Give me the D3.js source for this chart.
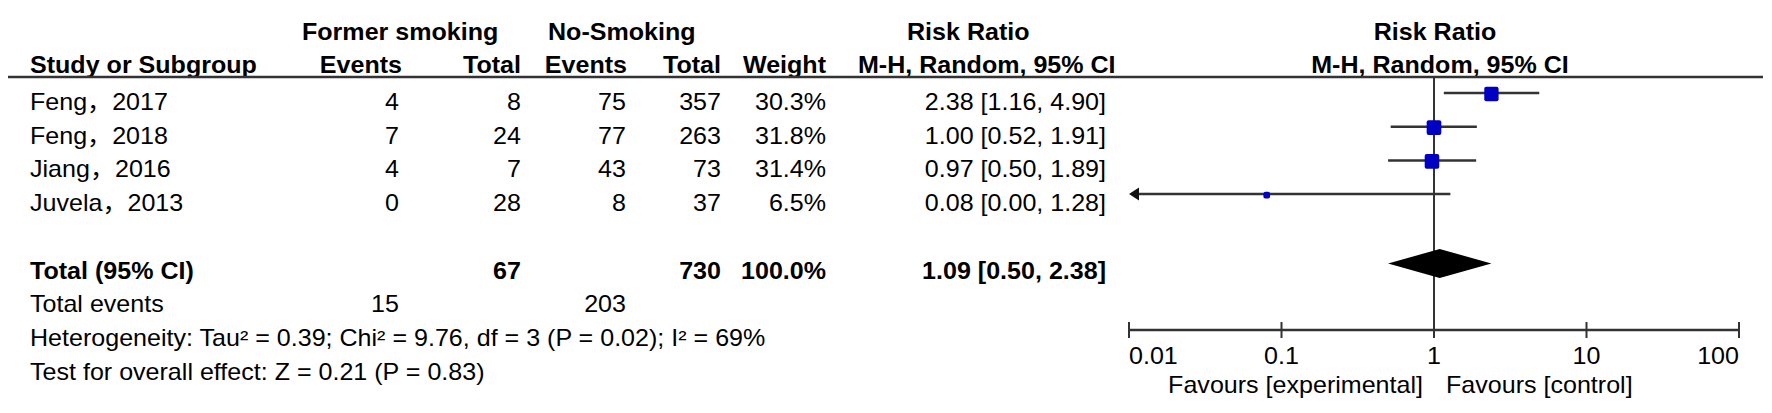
<!DOCTYPE html>
<html>
<head>
<meta charset="utf-8">
<script src="https://cdn.jsdelivr.net/npm/d3@7"></script>
<style>
  html, body { margin: 0; padding: 0; background: #fff; }
  svg text { font-family: "Liberation Sans", Arial, "Noto Sans CJK SC", sans-serif; fill: #000; }
</style>
</head>
<body>
<svg id="chart" width="1772" height="413"></svg>
<script>
// ---- data ----
const studies      = ["Feng，2017", "Feng，2018", "Jiang，2016", "Juvela，2013"];
const expEvents    = [4, 7, 4, 0];
const expTotal     = [8, 24, 7, 28];
const ctrlEvents   = [75, 77, 43, 8];
const ctrlTotal    = [357, 263, 73, 37];
const weights      = [30.3, 31.8, 31.4, 6.5];
const riskRatio    = [2.38, 1.00, 0.97, 0.08];
const ciLower      = [1.16, 0.52, 0.50, 0.00];
const ciUpper      = [4.90, 1.91, 1.89, 1.28];
const totalLabel   = "Total (95% CI)";
const totalExp     = 67;
const totalCtrl    = 730;
const totalWeight  = 100.0;
const pooledRR     = 1.09;
const pooledLower  = 0.50;
const pooledUpper  = 2.38;
const eventsExp    = 15;
const eventsCtrl   = 203;
const heterogeneityText = "Heterogeneity: Tau² = 0.39; Chi² = 9.76, df = 3 (P = 0.02); I² = 69%";
const overallText  = "Test for overall effect: Z = 0.21 (P = 0.83)";
const axisTicks    = [0.01, 0.1, 1, 10, 100];
const tickLabels   = ["0.01", "0.1", "1", "10", "100"];
const favourLeft   = "Favours [experimental]";
const favourRight  = "Favours [control]";
const groupHeaders = ["Former smoking", "No-Smoking"];

// ---- layout ----
const FS = 23, SX = 1.09;
const svg = d3.select("#chart");
const x = d3.scaleLog().domain([0.01, 100]).range([1129, 1739]);
const rowY = i => 110 + i * 33.7;
const lineCol = "#333";

function txt(xp, yp, s, anchor = "start", bold = false) {
  return svg.append("text")
    .attr("transform", `translate(${xp},${yp}) scale(${SX},1)`)
    .attr("text-anchor", anchor)
    .attr("font-size", FS)
    .attr("font-weight", bold ? "bold" : "normal")
    .text(s);
}
const f2 = d3.format(".2f");
const ciStr = (r, l, u) => `${f2(r)} [${f2(l)}, ${f2(u)}]`;

// headers
txt(302, 40, groupHeaders[0], "start", true);
txt(548, 40, groupHeaders[1], "start", true);
txt(907, 40, "Risk Ratio", "start", true);
txt(1435, 40, "Risk Ratio", "middle", true);

txt(30, 73, "Study or Subgroup", "start", true);
txt(402, 73, "Events", "end", true);
txt(521, 73, "Total", "end", true);
txt(627, 73, "Events", "end", true);
txt(721, 73, "Total", "end", true);
txt(826, 73, "Weight", "end", true);
txt(858, 73, "M-H, Random, 95% CI", "start", true);
txt(1440, 73, "M-H, Random, 95% CI", "middle", true);

svg.append("line").attr("x1", 8).attr("x2", 1763).attr("y1", 77).attr("y2", 77)
  .attr("stroke", lineCol).attr("stroke-width", 2.5);

// vertical line at RR = 1
const axisY = 330;
svg.append("line").attr("x1", x(1)).attr("x2", x(1)).attr("y1", 77).attr("y2", axisY)
  .attr("stroke", lineCol).attr("stroke-width", 2);

// study rows
studies.forEach((s, i) => {
  const y = rowY(i);
  txt(30, y, s);
  txt(399, y, expEvents[i], "end");
  txt(521, y, expTotal[i], "end");
  txt(626, y, ctrlEvents[i], "end");
  txt(721, y, ctrlTotal[i], "end");
  txt(826, y, weights[i].toFixed(1) + "%", "end");
  txt(1106, y, ciStr(riskRatio[i], ciLower[i], ciUpper[i]), "end");

  const cy = y - 17;
  const lo = Math.max(ciLower[i], x.domain()[0]);
  const hi = Math.min(ciUpper[i], x.domain()[1]);
  const clippedLeft = ciLower[i] < x.domain()[0];
  svg.append("line")
    .attr("x1", x(lo) + (clippedLeft ? 6 : 0)).attr("x2", x(hi))
    .attr("y1", cy).attr("y2", cy)
    .attr("stroke", lineCol).attr("stroke-width", 2.5);
  if (clippedLeft) {
    const ax = x(lo);
    svg.append("path")
      .attr("d", `M${ax},${cy} L${ax + 10},${cy - 6.5} L${ax + 10},${cy + 6.5} Z`)
      .attr("fill", "#111");
  }
  const sz = 2.6 * Math.sqrt(weights[i]);
  svg.append("rect")
    .attr("x", x(riskRatio[i]) - sz / 2).attr("y", cy - sz / 2 + 1)
    .attr("width", sz).attr("height", sz)
    .attr("rx", Math.min(2, sz / 3))
    .attr("fill", "#0000c4");
});

// total row
const ty = rowY(5);
txt(30, ty, totalLabel, "start", true);
txt(521, ty, totalExp, "end", true);
txt(721, ty, totalCtrl, "end", true);
txt(826, ty, totalWeight.toFixed(1) + "%", "end", true);
txt(1106, ty, ciStr(pooledRR, pooledLower, pooledUpper), "end", true);
const dy = ty - 15, dh = 14.5;
svg.append("path")
  .attr("d", `M${x(pooledLower)},${dy} L${x(pooledRR)},${dy - dh} L${x(pooledUpper)},${dy} L${x(pooledRR)},${dy + dh} Z`)
  .attr("fill", "#000");

// footer rows
txt(30, rowY(6), "Total events");
txt(399, rowY(6), eventsExp, "end");
txt(626, rowY(6), eventsCtrl, "end");
txt(30, rowY(7), heterogeneityText);
txt(30, rowY(8), overallText);

// axis
svg.append("line").attr("x1", x(0.01)).attr("x2", x(100)).attr("y1", axisY).attr("y2", axisY)
  .attr("stroke", lineCol).attr("stroke-width", 2.5);
axisTicks.forEach((t, i) => {
  svg.append("line").attr("x1", x(t)).attr("x2", x(t)).attr("y1", axisY - 8).attr("y2", axisY + 8)
    .attr("stroke", lineCol).attr("stroke-width", 2);
  const anchor = i === 0 ? "start" : (i === axisTicks.length - 1 ? "end" : "middle");
  txt(x(t), 364, tickLabels[i], anchor);
});
txt(x(1) - 11, 393, favourLeft, "end");
txt(x(1) + 12, 393, favourRight, "start");
</script>
</body>
</html>
